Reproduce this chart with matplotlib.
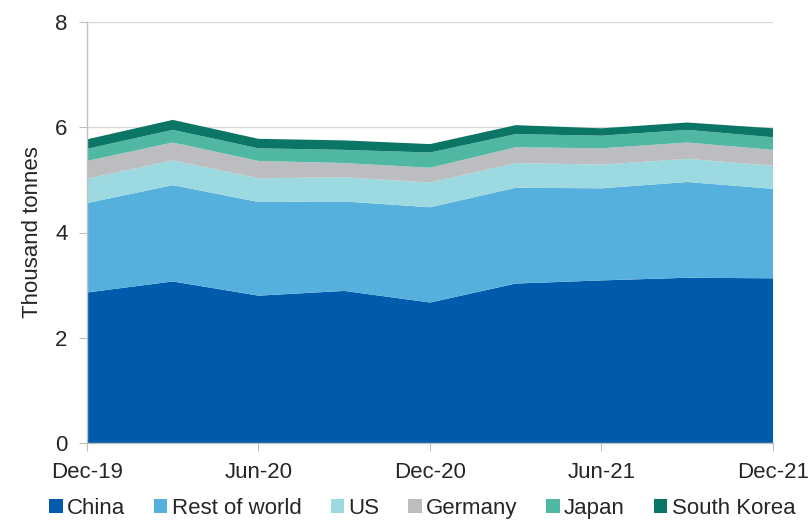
import matplotlib
matplotlib.use("Agg")
import matplotlib.pyplot as plt
from matplotlib.patches import Patch

plt.rcParams['font.family'] = ['Liberation Sans', 'DejaVu Sans']

quarters = ["Dec-19", "Mar-20", "Jun-20", "Sep-20", "Dec-20", "Mar-21", "Jun-21", "Sep-21", "Dec-21"]
series_names = ["China", "Rest of world", "US", "Germany", "Japan", "South Korea"]
china = [2.86, 3.07, 2.80, 2.89, 2.67, 3.03, 3.09, 3.14, 3.13]
rest_of_world = [1.70, 1.83, 1.78, 1.70, 1.81, 1.82, 1.75, 1.82, 1.70]
us = [0.46, 0.47, 0.45, 0.46, 0.47, 0.47, 0.45, 0.44, 0.44]
germany = [0.34, 0.34, 0.33, 0.27, 0.28, 0.30, 0.31, 0.31, 0.30]
japan = [0.23, 0.24, 0.24, 0.25, 0.29, 0.25, 0.24, 0.24, 0.24]
south_korea = [0.18, 0.19, 0.18, 0.18, 0.16, 0.17, 0.14, 0.14, 0.17]
colors = ["#005BAC", "#56B0DE", "#9DD9E0", "#BBBDC0", "#50B8A2", "#0B7665"]
xtick_labels = ["Dec-19", "Jun-20", "Dec-20", "Jun-21", "Dec-21"]

fig = plt.figure(figsize=(8.12, 5.23), dpi=100)
ax = fig.add_axes([87/812, 80/523, 686/812, 421/523])

x = list(range(len(quarters)))
ax.stackplot(x, china, rest_of_world, us, germany, japan, south_korea,
             colors=colors, linewidth=0, zorder=2)

ax.set_xlim(0, len(quarters) - 1)
ax.set_ylim(0, 8)
ax.set_yticks([0, 2, 4, 6, 8])
ax.set_xticks(x[::2])
ax.set_xticklabels(xtick_labels)
ax.yaxis.grid(True, color="#D9D9D9", linewidth=1, zorder=0)
ax.set_axisbelow(True)
for s in ["top", "right"]:
    ax.spines[s].set_visible(False)
for s in ["left", "bottom"]:
    ax.spines[s].set_color("#BFBFBF")
    ax.spines[s].set_linewidth(1)
ax.tick_params(axis="both", colors="#BFBFBF", labelcolor="#262626", labelsize=16, length=6)
ax.tick_params(axis="x", pad=8)
ax.tick_params(axis="y", pad=8)
ax.set_ylabel("Thousand tonnes", fontsize=16, color="#262626", labelpad=9)

handles = [Patch(facecolor=c, edgecolor="none") for c in colors]
fig.legend(handles, series_names, loc="lower center", bbox_to_anchor=(0.52, -0.03), ncol=6,
           frameon=False, fontsize=16, handlelength=0.6, handleheight=0.6,
           handletextpad=0.2, columnspacing=1.3, labelcolor="#262626")

fig.savefig("out.png", dpi=100)
